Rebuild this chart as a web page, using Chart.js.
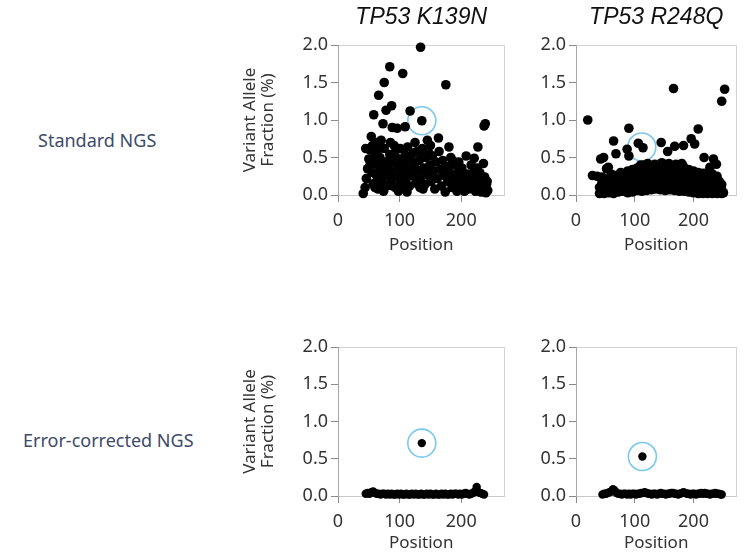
<!DOCTYPE html>
<html>
<head>
<meta charset="utf-8">
<script src="https://cdn.jsdelivr.net/npm/chart.js@4.4.1/dist/chart.umd.min.js"></script>
<style>
  body { margin: 0; background: #fff; width: 752px; height: 553px; position: relative; overflow: hidden; font-family: "Noto Sans", sans-serif; }
  canvas { position: absolute; }
  .row { position: absolute; color: #3d4b68; font-size: 18px; line-height: 22px; white-space: nowrap; }
</style>
</head>
<body>
<div class="row" id="row0" style="left:38px;top:129px"></div>
<div class="row" id="row1" style="left:23px;top:429px"></div>
<canvas id="c1" width="290" height="265" style="left:230px;top:0px"></canvas>
<canvas id="c2" width="232" height="265" style="left:520px;top:0px"></canvas>
<canvas id="c3" width="290" height="223" style="left:230px;top:330px"></canvas>
<canvas id="c4" width="232" height="223" style="left:520px;top:330px"></canvas>
<script>
// labels and ticks
const rowLabels = ['Standard NGS', 'Error-corrected NGS'];
const panelTitles = ['TP53 K139N', 'TP53 R248Q'];
const yAxisTitle = ['Variant Allele', 'Fraction (%)'];
const xAxisTitle = 'Position';
const xTickValues = [0, 100, 200];
const yTickValues = [0, 0.5, 1.0, 1.5, 2.0];

// TP53 K139N, standard NGS
const k139nStdPos = [134, 84, 105, 75, 175, 66, 87, 78, 117, 58, 136, 73, 88, 96, 109, 237, 239,
  41, 44, 46, 48, 50, 52, 45, 54, 55, 57, 58, 60, 62, 63, 65, 66, 68, 70, 71, 73, 75, 77, 79, 80,
  82, 84, 86, 88, 90, 92, 93, 95, 97, 99, 101, 103, 105, 107, 109, 111, 113, 114, 116, 118, 120, 122,
  124, 126, 128, 130, 132, 134, 137, 139, 141, 143, 145, 147, 149, 60, 74, 85, 98, 112, 125, 138, 56, 67,
  91, 100, 135,
  52, 62, 69, 76, 83, 89, 94, 102, 110, 115, 121, 127, 133, 142, 148,
  150, 151, 153, 155, 157, 159, 161, 163, 164, 166, 168, 170, 172, 174, 176, 178, 180, 181, 183, 185,
  187, 189, 191, 193, 195, 197, 199, 201, 203, 205, 207, 208, 210, 212, 214, 216, 218, 220, 221, 223,
  225, 227, 228, 230, 232, 233, 235, 236, 238, 240, 241, 243, 186, 196, 204, 213, 226, 229,
  206, 215, 222, 231, 237, 242];
const k139nStdVaf = [1.97, 1.71, 1.62, 1.50, 1.47, 1.33, 1.19, 1.13, 1.12, 1.07, 0.99, 0.95, 0.90, 0.89, 0.91, 0.92, 0.95,
  0.02, 0.10, 0.22, 0.35, 0.48, 0.60, 0.62, 0.78, 0.30, 0.15, 0.42, 0.55, 0.70, 0.25, 0.08, 0.38, 0.50, 0.73, 0.18, 0.30, 0.62, 0.44, 0.12, 0.26,
  0.36, 0.54, 0.20, 0.30, 0.44, 0.56, 0.10, 0.24, 0.36, 0.48, 0.62, 0.18, 0.30, 0.42, 0.53, 0.22, 0.64, 0.34, 0.12, 0.46, 0.26, 0.56,
  0.38, 0.16, 0.58, 0.30, 0.46, 0.20, 0.62, 0.36, 0.14, 0.50, 0.73, 0.26, 0.40, 0.10, 0.05, 0.70, 0.05, 0.04, 0.70, 0.08, 0.66, 0.62,
  0.66, 0.14, 0.52,
  0.40, 0.45, 0.30, 0.35, 0.46, 0.12, 0.45, 0.40, 0.12, 0.50, 0.45, 0.28, 0.10, 0.30, 0.55,
  0.66, 0.18, 0.52, 0.32, 0.08, 0.44, 0.22, 0.76, 0.58, 0.34, 0.12, 0.46, 0.26, 0.04, 0.38, 0.18, 0.64, 0.30, 0.50, 0.10,
  0.24, 0.40, 0.16, 0.05, 0.30, 0.20, 0.10, 0.36, 0.24, 0.05, 0.16, 0.52, 0.28, 0.08, 0.20, 0.40, 0.12, 0.30, 0.49, 0.05,
  0.20, 0.64, 0.12, 0.30, 0.04, 0.18, 0.09, 0.42, 0.24, 0.03, 0.14, 0.06, 0.46, 0.44, 0.12, 0.26, 0.36, 0.22,
  0.25, 0.10, 0.15, 0.14, 0.08, 0.18];

// TP53 R248Q, standard NGS
const r248qStdPos = [20, 166, 253, 248, 90, 208, 64, 196, 202, 183, 168, 156, 145, 106, 114, 87, 90, 68, 218, 234, 239, 42, 47, 55, 28, 36, 228,
  40, 40, 44, 44, 44, 48, 48, 48, 52, 52, 52, 56, 56, 56, 60, 60, 60, 64, 64, 64, 68, 68, 68, 72, 72, 72, 76, 76, 76,
  80, 80, 80, 84, 84, 84, 88, 88, 88, 88, 92, 92, 92, 96, 96, 96, 96, 100, 100, 100, 104, 104, 104, 104, 108, 108, 108,
  112, 112, 112, 112, 116, 116, 116, 116, 120, 120, 120, 120, 124, 124, 124, 128, 128, 128, 128, 132, 132, 132,
  136, 136, 136, 136, 140, 140, 140, 144, 144, 144, 144, 148, 148, 148, 152, 152, 152, 152, 156, 156, 156,
  160, 160, 160, 160, 164, 164, 164, 168, 168, 168, 168, 172, 172, 172, 176, 176, 176, 176, 180, 180, 180, 180,
  184, 184, 184, 184, 188, 188, 188, 192, 192, 192, 192, 196, 196, 196, 200, 200, 200, 200, 204, 204, 204,
  208, 208, 208, 208, 212, 212, 212, 216, 216, 216, 216, 220, 220, 220, 224, 224, 224, 224, 228, 228, 228,
  232, 232, 232, 232, 236, 236, 236, 240, 240, 240, 240, 244, 244, 244, 248, 248, 248, 251,
  110, 122, 134, 146, 158, 170, 182];
const r248qStdVaf = [1.00, 1.42, 1.41, 1.25, 0.89, 0.88, 0.72, 0.75, 0.68, 0.66, 0.65, 0.58, 0.70, 0.69, 0.63, 0.61, 0.52, 0.55, 0.50, 0.48, 0.41, 0.48, 0.50, 0.37, 0.26, 0.25, 0.37,
  0.02, 0.10, 0.05, 0.16, 0.24, 0.02, 0.12, 0.20, 0.08, 0.18, 0.35, 0.03, 0.14, 0.22, 0.06, 0.19, 0.28, 0.02, 0.12, 0.22, 0.08, 0.17, 0.26, 0.04, 0.14, 0.24, 0.10, 0.20, 0.30,
  0.05, 0.15, 0.25, 0.09, 0.19, 0.28, 0.03, 0.13, 0.23, 0.32, 0.08, 0.18, 0.27, 0.04, 0.14, 0.24, 0.34, 0.10, 0.20, 0.30, 0.06, 0.16, 0.26, 0.36, 0.11, 0.21, 0.31,
  0.05, 0.15, 0.25, 0.38, 0.10, 0.20, 0.30, 0.40, 0.06, 0.17, 0.28, 0.36, 0.12, 0.22, 0.33, 0.07, 0.18, 0.29, 0.39, 0.12, 0.23, 0.34,
  0.08, 0.19, 0.30, 0.38, 0.13, 0.24, 0.35, 0.07, 0.18, 0.29, 0.37, 0.12, 0.23, 0.33, 0.06, 0.17, 0.28, 0.38, 0.11, 0.22, 0.32,
  0.07, 0.18, 0.29, 0.40, 0.12, 0.23, 0.34, 0.06, 0.17, 0.28, 0.37, 0.11, 0.22, 0.33, 0.05, 0.16, 0.27, 0.38, 0.10, 0.21, 0.32, 0.42,
  0.05, 0.15, 0.26, 0.36, 0.09, 0.20, 0.30, 0.04, 0.14, 0.25, 0.34, 0.08, 0.18, 0.28, 0.03, 0.13, 0.23, 0.32, 0.07, 0.17, 0.27,
  0.02, 0.12, 0.22, 0.30, 0.06, 0.16, 0.26, 0.02, 0.11, 0.21, 0.29, 0.05, 0.15, 0.24, 0.02, 0.10, 0.19, 0.30, 0.04, 0.14, 0.22,
  0.02, 0.09, 0.18, 0.28, 0.04, 0.12, 0.20, 0.02, 0.08, 0.16, 0.25, 0.03, 0.11, 0.18, 0.02, 0.07, 0.14, 0.03,
  0.40, 0.42, 0.41, 0.43, 0.42, 0.41, 0.39];

// TP53 K139N, error-corrected NGS
const k139nEcPos = [45, 48, 51, 54, 57, 60, 63, 66, 69, 72, 75, 78, 81, 84, 87, 90, 93, 96, 99, 102, 105, 108, 111, 114,
  117, 120, 123, 126, 129, 132, 135, 138, 141, 144, 147, 150, 153, 156, 159, 162, 165, 168, 171, 174, 177, 180,
  183, 186, 189, 192, 195, 198, 201, 204, 207, 210, 213, 216, 219, 222, 225, 228, 231, 234, 237, 136];
const k139nEcVaf = [0.03, 0.04, 0.03, 0.05, 0.06, 0.04, 0.03, 0.03, 0.02, 0.03, 0.03, 0.02, 0.03, 0.02, 0.03, 0.02, 0.02, 0.03, 0.02, 0.03, 0.02, 0.02, 0.03, 0.02,
  0.02, 0.03, 0.02, 0.03, 0.02, 0.02, 0.03, 0.02, 0.02, 0.03, 0.02, 0.03, 0.02, 0.02, 0.03, 0.02, 0.02, 0.03, 0.02, 0.03, 0.02, 0.02,
  0.03, 0.02, 0.03, 0.03, 0.02, 0.03, 0.02, 0.03, 0.04, 0.03, 0.02, 0.03, 0.04, 0.06, 0.12, 0.05, 0.04, 0.03, 0.02, 0.71];

// TP53 R248Q, error-corrected NGS
const r248qEcPos = [45, 48, 51, 54, 57, 60, 63, 66, 69, 72, 75, 78, 81, 84, 87, 90, 93, 96, 99, 102, 105, 108, 111, 114,
  117, 120, 123, 126, 129, 132, 135, 138, 141, 144, 147, 150, 153, 156, 159, 162, 165, 168, 171, 174, 177, 180,
  183, 186, 189, 192, 195, 198, 201, 204, 207, 210, 213, 216, 219, 222, 225, 228, 231, 234, 237, 240, 243, 246, 248, 113];
const r248qEcVaf = [0.02, 0.03, 0.03, 0.04, 0.05, 0.06, 0.09, 0.07, 0.04, 0.03, 0.03, 0.02, 0.03, 0.03, 0.02, 0.03, 0.02, 0.03, 0.03, 0.02, 0.03, 0.03, 0.04, 0.04,
  0.05, 0.04, 0.03, 0.03, 0.02, 0.03, 0.03, 0.02, 0.03, 0.04, 0.03, 0.03, 0.02, 0.03, 0.03, 0.04, 0.04, 0.03, 0.03, 0.02, 0.03, 0.04,
  0.05, 0.04, 0.03, 0.03, 0.02, 0.03, 0.03, 0.02, 0.03, 0.03, 0.04, 0.03, 0.04, 0.03, 0.03, 0.02, 0.03, 0.03, 0.04, 0.03, 0.03, 0.02, 0.02, 0.53];

// circled mutation of interest in each panel
const ringPos = [136, 112, 136, 113];
const ringVaf = [0.99, 0.64, 0.71, 0.53];

rowLabels.forEach((t, i) => { document.getElementById('row' + i).textContent = t; });

const tickFont = { family: '"Noto Sans", sans-serif', size: 18 };
const xTitleFont = { family: '"Noto Sans", sans-serif', size: 17, lineHeight: 1.2 };
const yTitleFont = { family: '"Noto Sans", sans-serif', size: 17, lineHeight: 1.08 };

const framePlugin = {
  id: 'frame',
  beforeDraw(chart) {
    const a = chart.chartArea, ctx = chart.ctx;
    ctx.save();
    ctx.strokeStyle = '#d2d2d2';
    ctx.lineWidth = 1;
    ctx.strokeRect(Math.round(a.left) + 0.5, Math.round(a.top) + 0.5, Math.round(a.right - a.left), Math.round(a.bottom - a.top));
    ctx.restore();
  }
};

function makePanel(id, p) {
  const pts = p.pos.map((x, i) => ({ x: x, y: p.vaf[i] }));
  new Chart(document.getElementById(id), {
    type: 'scatter',
    data: {
      datasets: [
        { data: pts, pointRadius: p.r, pointHoverRadius: p.r, backgroundColor: '#000', borderWidth: 0, clip: false },
        { data: [{ x: ringPos[p.ring], y: ringVaf[p.ring] }], pointRadius: 14, pointHoverRadius: 14,
          backgroundColor: 'rgba(0,0,0,0)', borderColor: '#78c8ef', borderWidth: 1.6, clip: false }
      ]
    },
    options: {
      responsive: false,
      animation: false,
      events: [],
      layout: { padding: { top: p.padTop, right: p.padRight, left: 0, bottom: 0 } },
      plugins: {
        legend: { display: false },
        tooltip: { enabled: false },
        title: {
          display: !!p.title, text: p.title, fullSize: false, color: '#111',
          font: { family: '"Liberation Sans", Arial, sans-serif', size: 23, style: 'italic', weight: 'normal', lineHeight: 1.2 },
          padding: { top: 4, bottom: 13.4 }
        }
      },
      scales: {
        x: {
          type: 'linear', min: 0, max: p.xMax,
          afterBuildTicks: s => { s.ticks = xTickValues.map(v => ({ value: v })); },
          afterFit: s => { s.height = p.xH; },
          ticks: { color: '#333', font: tickFont, padding: 8, maxRotation: 0 },
          grid: { drawOnChartArea: false, tickLength: 7, color: '#8a8a8a' },
          border: { color: '#c8c8c8' },
          title: { display: true, text: xAxisTitle, color: '#333', font: xTitleFont, padding: { top: 0, bottom: p.xTitlePad } }
        },
        y: {
          type: 'linear', min: 0, max: 2,
          afterBuildTicks: s => { s.ticks = yTickValues.map(v => ({ value: v })); },
          afterFit: s => { s.width = p.yW; },
          ticks: { color: '#333', font: tickFont, padding: 3, callback: v => Number(v).toFixed(1) },
          grid: { drawOnChartArea: false, tickLength: 7, color: '#8a8a8a' },
          border: { color: '#a6a6a6' },
          title: { display: p.yTitle, text: yAxisTitle, color: '#333', font: yTitleFont, padding: { top: 11, bottom: 0 } }
        }
      }
    },
    plugins: [framePlugin]
  });
}

makePanel('c1', { pos: k139nStdPos, vaf: k139nStdVaf, ring: 0, r: 4.8, title: panelTitles[0], yTitle: true,
  xMax: 270, yW: 108, xH: 70, padTop: 0, padRight: 11, xTitlePad: 9.8 });
makePanel('c2', { pos: r248qStdPos, vaf: r248qStdVaf, ring: 1, r: 4.8, title: panelTitles[1], yTitle: false,
  xMax: 273, yW: 56, xH: 70, padTop: 0, padRight: 6, xTitlePad: 9.8 });
makePanel('c3', { pos: k139nEcPos, vaf: k139nEcVaf, ring: 2, r: 4.2, title: '', yTitle: true,
  xMax: 270, yW: 108, xH: 57, padTop: 17, padRight: 10, xTitlePad: 0 });
makePanel('c4', { pos: r248qEcPos, vaf: r248qEcVaf, ring: 3, r: 4.2, title: '', yTitle: false,
  xMax: 273, yW: 56, xH: 57, padTop: 17, padRight: 6, xTitlePad: 0 });
</script>
</body>
</html>
